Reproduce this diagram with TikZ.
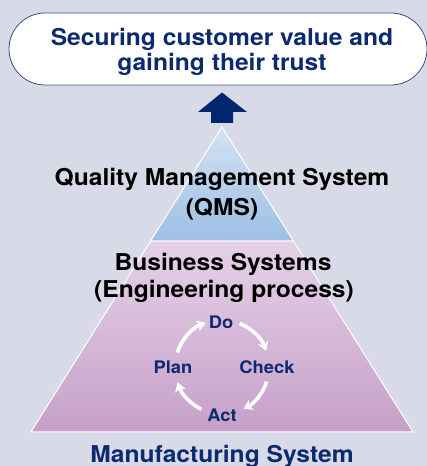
\documentclass[tikz,border=0pt]{standalone}
\usepackage{fontspec}
\setmainfont{TeX Gyre Heros}
\newfontfamily\boldwide{TeX Gyre Heros}[FakeStretch=1.06]
\usetikzlibrary{arrows.meta}
\definecolor{bg}{HTML}{D9DAE8}
\definecolor{navy}{HTML}{0C2A6E}
\definecolor{arrowblue}{HTML}{00266E}
\definecolor{boxline}{HTML}{3B4E86}
\definecolor{qtop}{HTML}{D3E3F3}
\definecolor{qbot}{HTML}{9CBFE3}
\definecolor{btop}{HTML}{E5D2E7}
\definecolor{bbot}{HTML}{C69FC8}
\tikzset{
  bigtext/.style={font=\boldwide\bfseries\fontsize{23.2}{26}\selectfont, inner sep=0pt, anchor=base},
  pdcatext/.style={font=\boldwide\bfseries\fontsize{17.3}{19}\selectfont, text=navy, inner sep=0pt},
  pdcaarrow/.style={white, line width=3.6pt, -{Stealth[length=9pt,width=11pt,inset=2.5pt]}},
  layer/.style={draw=white, line width=1pt},
}
\begin{document}
\begin{tikzpicture}[x=1pt,y=1pt]
\fill[bg] (0,0) rectangle (427,466);
\useasboundingbox (0,0) rectangle (427,466);

% goal box
\node[draw=boxline, line width=0.8pt, fill=white, rounded corners=36pt,
      minimum width=418pt, minimum height=72pt, inner sep=0pt] (goal) at (218,417) {};
\node[bigtext, text=navy] (goal1) at (222,420.3) {Securing customer value and};
\node[bigtext, text=navy] (goal2) at (222,395) {gaining their trust};

% block arrow
\fill[arrowblue] (211,343) -- (233,343) -- (233,354) -- (247,354) -- (222,373.5)
  -- (198,354) -- (211,354) -- cycle;

% pyramid
\shadedraw[layer, top color=btop, bottom color=bbot]
  (31,34) -- (413,34) -- (293.4,225) -- (150.6,225) -- cycle;
\shadedraw[layer, top color=qtop, bottom color=qbot]
  (150.6,225) -- (293.4,225) -- (222,339) -- cycle;

\node[bigtext] (qms1) at (222,280.7) {Quality Management System};
\node[bigtext] (qms2) at (222,250.5) {(QMS)};
\node[bigtext] (bus1) at (223,195) {Business Systems};
\node[bigtext] (bus2) at (224,168) {(Engineering process)};

% PDCA
\coordinate (cyc) at (222,99);
\node[pdcatext] (do) at (221,144) {Do};
\node[pdcatext] (check) at (267,99) {Check};
\node[pdcatext] (plan) at (173,99) {Plan};
\node[pdcatext] (act) at (222,51) {Act};
\draw[pdcaarrow] ([shift={(162:47)}]cyc) arc[start angle=162, end angle=110, radius=47];
\draw[pdcaarrow] ([shift={(68:47)}]cyc) arc[start angle=68, end angle=20, radius=47];
\draw[pdcaarrow] ([shift={(-18:47)}]cyc) arc[start angle=-18, end angle=-63, radius=47];
\draw[pdcaarrow] ([shift={(-116:47)}]cyc) arc[start angle=-116, end angle=-161, radius=47];

\node[bigtext, text=navy] (mfg) at (222,3.5) {Manufacturing System};
\end{tikzpicture}
\end{document}
